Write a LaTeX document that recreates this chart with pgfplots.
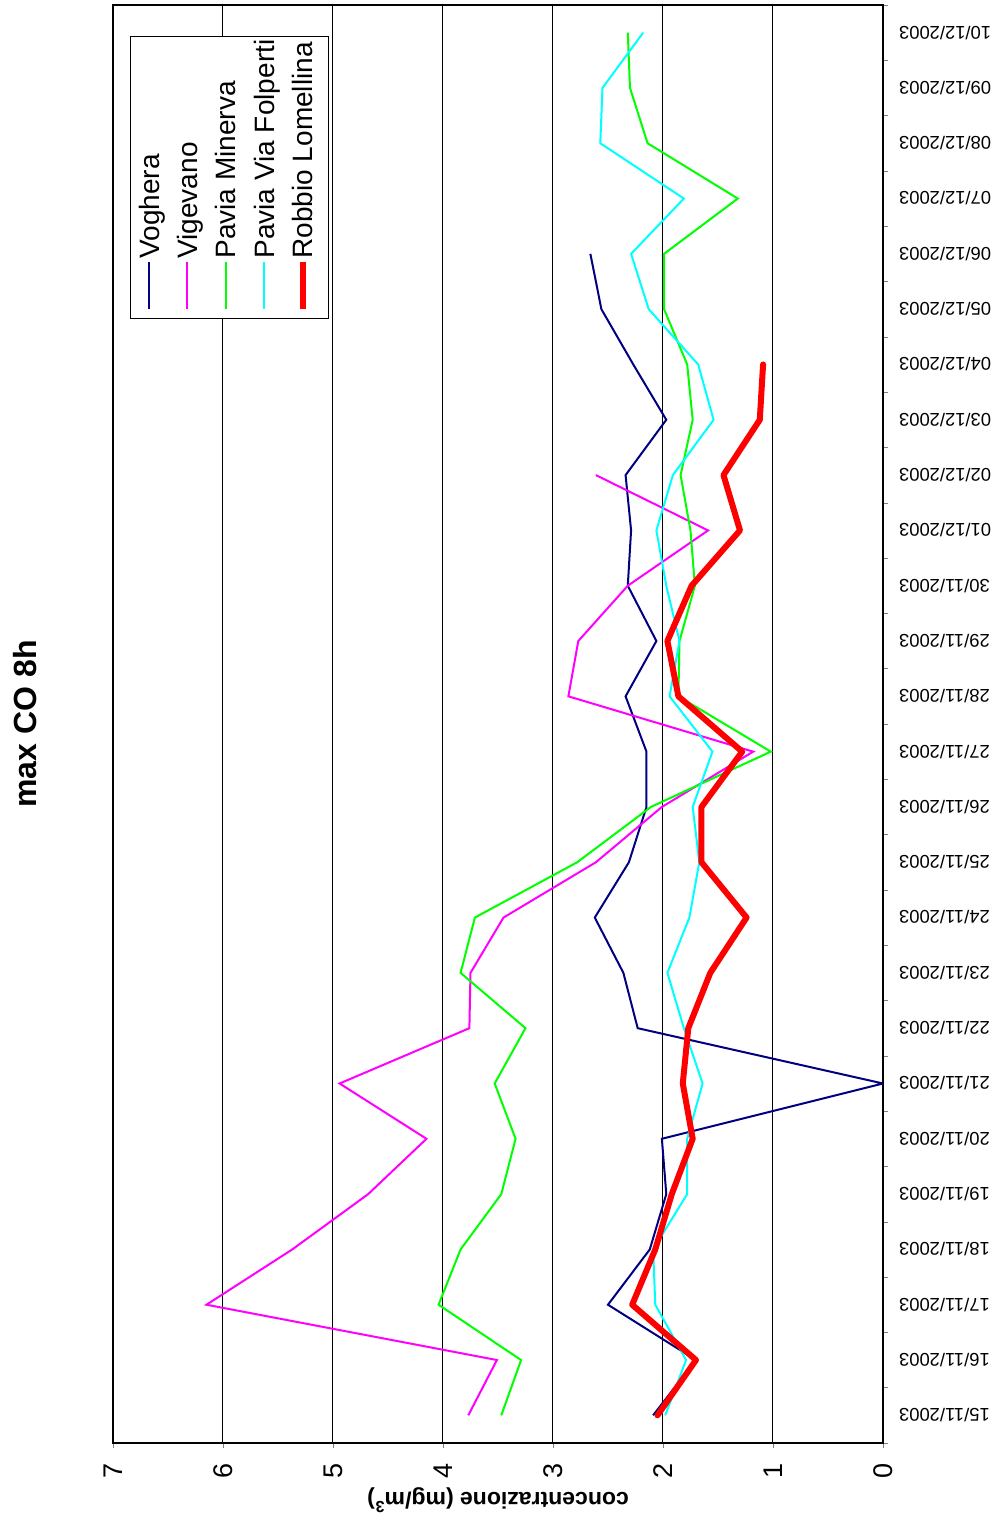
\documentclass[border=0pt]{standalone}
\usepackage{fontspec}
\setmainfont{Liberation Sans}
\usepackage{graphicx}
\usepackage{pgfplots}
\pgfplotsset{compat=1.18}
\definecolor{cnavy}{RGB}{0,0,128}
\definecolor{cmag}{RGB}{255,0,255}
\definecolor{cgreen}{RGB}{0,255,0}
\definecolor{ccyan}{RGB}{0,255,255}
\definecolor{cred}{RGB}{255,0,0}
\newcommand{\lgd}[4]{\rotatebox{90}{\makebox[132.5pt][l]{\textcolor{#1}{\rule[#3]{23.5pt}{#2}}\hspace{1.5pt}\strut #4}}}
\begin{document}
\begin{tikzpicture}
\begin{axis}[
  scale only axis,
  width=385pt, height=719pt,
  x dir=reverse,
  xmin=0, xmax=7,
  ymin=-0.5, ymax=25.5,
  xtick={0,1,...,7},
  xtick pos=left,
  ytick pos=right,
  tick align=outside,
  major tick length=2.5pt,
  xmajorgrids,
  grid style={black, line width=0.5pt},
  axis line style={black, line width=0.6pt},
  /pgf/number format/assume math mode=true,
  xticklabel style={rotate=90, anchor=east, font=\fontsize{13.5}{16}\selectfont},
  xticklabel shift={4pt},
  ytick={-0.5,0.5,...,25.5},
  y tick label as interval,
  yticklabels={15/11/2003,16/11/2003,17/11/2003,18/11/2003,19/11/2003,20/11/2003,21/11/2003,22/11/2003,23/11/2003,24/11/2003,25/11/2003,26/11/2003,27/11/2003,28/11/2003,29/11/2003,30/11/2003,01/12/2003,02/12/2003,03/12/2003,04/12/2003,05/12/2003,06/12/2003,07/12/2003,08/12/2003,09/12/2003,10/12/2003},
  yticklabel style={rotate=180, anchor=east, font=\fontsize{9.2}{11}\selectfont},
  yticklabel shift={2pt},
  xlabel={concentrazione (mg/m\textsuperscript{3})},
  xlabel style={at={(axis description cs:0.5,-0.0396)}, anchor=center, rotate=180, font=\fontsize{11.5}{14}\selectfont\bfseries},
  legend columns=5,
  legend style={at={(axis cs:5.94,22.38)}, anchor=center, draw=black, line width=0.6pt, font=\fontsize{14}{16}\selectfont, column sep=0pt, inner xsep=1.5pt, inner ysep=2pt, nodes={inner sep=1.6pt}},
  legend cell align=left,
  legend image code/.code={},
]
\addplot[cnavy, line width=1pt] coordinates {
(2.09,0) (1.70,1) (2.50,2) (2.12,3) (1.97,4) (2.01,5) (0,6) (2.23,7) (2.36,8) (2.62,9) (2.31,10) (2.15,11) (2.15,12) (2.34,13) (2.06,14) (2.32,15) (2.29,16) (2.34,17) (1.97,18) (2.27,19) (2.56,20) (2.66,21)};
\addlegendentry{\lgd{cnavy}{1pt}{0.33em}{Voghera}}
\addplot[cmag, line width=1pt] coordinates {
(3.77,0) (3.51,1) (6.15,2) (5.37,3) (4.68,4) (4.15,5) (4.94,6) (3.76,7) (3.75,8) (3.45,9) (2.61,10) (2.01,11) (1.18,12) (2.86,13) (2.77,14) (2.32,15) (1.59,16) (2.61,17)};
\addlegendentry{\lgd{cmag}{1pt}{0.33em}{Vigevano}}
\addplot[cgreen, line width=1pt] coordinates {
(3.47,0) (3.29,1) (4.04,2) (3.84,3) (3.47,4) (3.34,5) (3.53,6) (3.25,7) (3.84,8) (3.71,9) (2.78,10) (2.11,11) (1.02,12) (1.86,13) (1.85,14) (1.71,15) (1.75,16) (1.84,17) (1.73,18) (1.78,19) (1.99,20) (1.99,21) (1.32,22) (2.14,23) (2.30,24) (2.32,25)};
\addlegendentry{\lgd{cgreen}{1pt}{0.33em}{Pavia Minerva}}
\addplot[ccyan, line width=1pt] coordinates {
(1.98,0) (1.79,1) (2.07,2) (2.09,3) (1.78,4) (1.78,5) (1.64,6) (1.81,7) (1.96,8) (1.76,9) (1.67,10) (1.73,11) (1.55,12) (1.94,13) (1.85,14) (1.97,15) (2.06,16) (1.91,17) (1.54,18) (1.68,19) (2.13,20) (2.29,21) (1.81,22) (2.57,23) (2.55,24) (2.18,25)};
\addlegendentry{\lgd{ccyan}{1pt}{0.33em}{Pavia Via Folperti}}
\addplot[cred, line width=3pt, line cap=round, line join=round] coordinates {
(2.05,0) (1.70,1) (2.28,2) (2.07,3) (1.92,4) (1.73,5) (1.82,6) (1.77,7) (1.57,8) (1.24,9) (1.65,10) (1.65,11) (1.28,12) (1.86,13) (1.96,14) (1.74,15) (1.30,16) (1.45,17) (1.12,18) (1.09,19)};
\addlegendentry{\lgd{cred}{3pt}{0.23em}{Robbio Lomellina}}
\end{axis}
\node[rotate=90, font=\fontsize{16}{19}\selectfont\bfseries] at ([xshift=-44pt]current axis.west) {max CO 8h};
\path ([xshift=-56.5pt,yshift=2.5pt]current axis.north west) rectangle ([xshift=56pt,yshift=-40pt]current axis.south east);
\end{tikzpicture}
\end{document}
